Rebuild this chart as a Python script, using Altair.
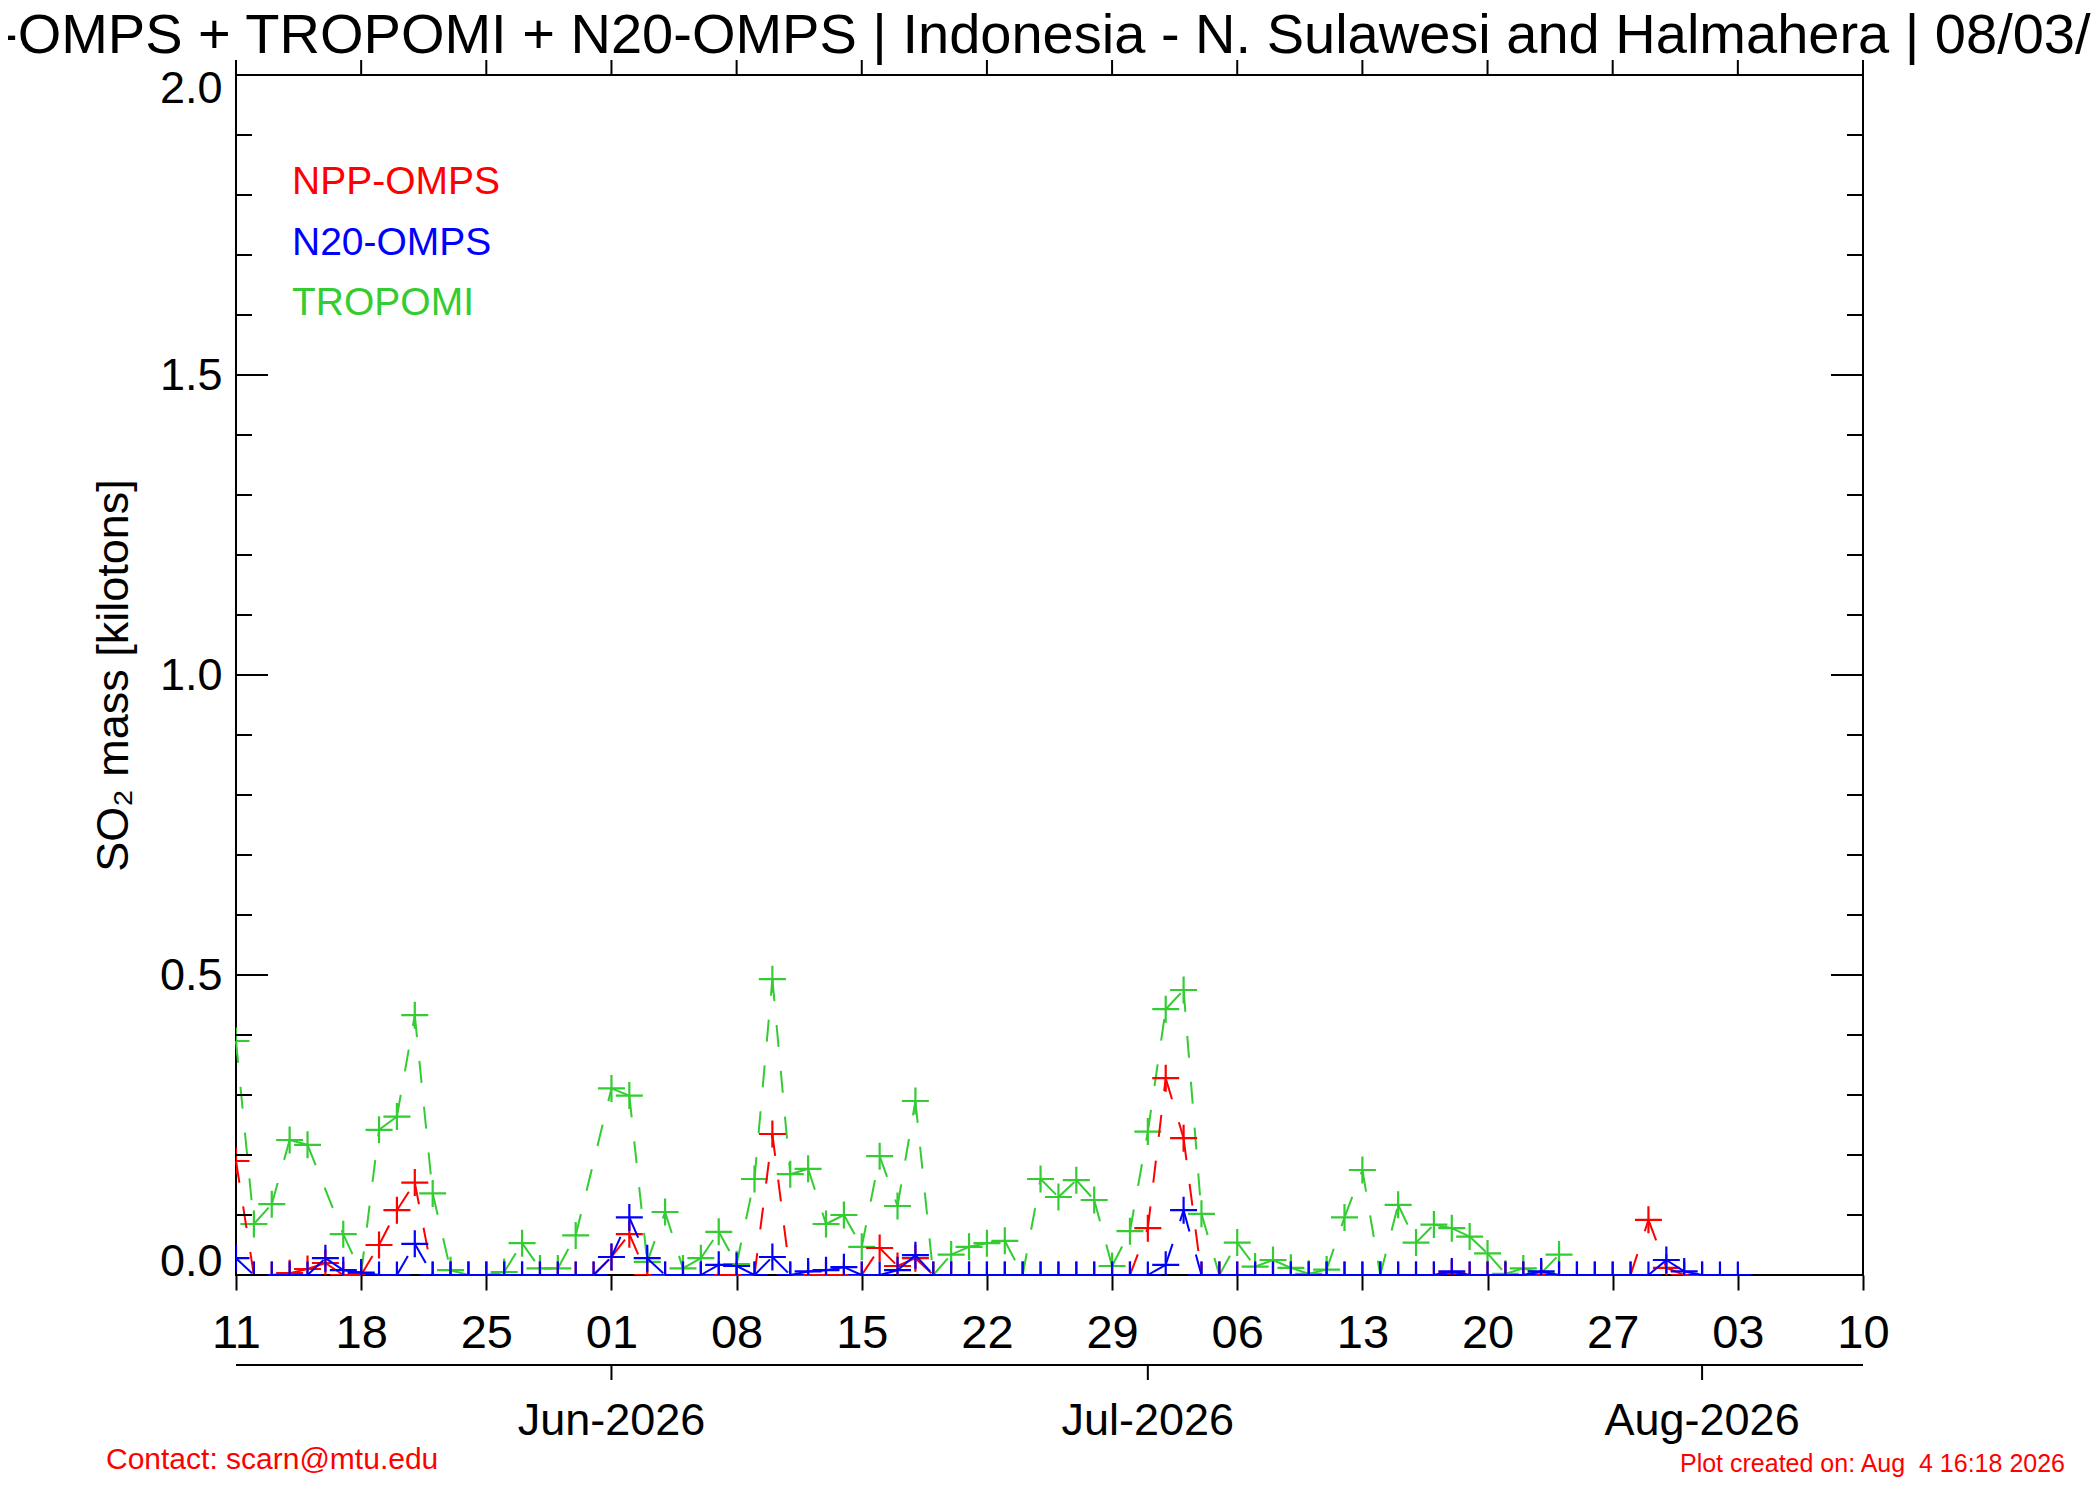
import altair as alt
import pandas as pd

FONT = "Liberation Sans"
START = pd.Timestamp("2026-05-11")

# ---- data (kilotons), one value per day starting 2026-05-11; None = no retrieval ----
tropomi = [0.39, 0.085, 0.118, 0.225, 0.217, None, 0.068, 0.003, 0.242, 0.264,
           0.433, 0.136, 0.008, 0.0, 0.0, 0.005, 0.053, 0.011, 0.011, 0.066,
           None, 0.311, 0.299, 0.022, 0.105, 0.011, 0.028, 0.072, 0.018, 0.16,
           0.493, 0.168, 0.177, 0.085, 0.1, 0.047, 0.198, 0.115, 0.29, 0.0,
           0.034, 0.047, 0.053, 0.057, 0.0, 0.16, 0.13, 0.158, 0.125, 0.015,
           0.073, 0.239, 0.443, 0.475, 0.102, 0.0, 0.054, 0.014, 0.025, 0.012,
           0.002, 0.009, 0.096, 0.175, 0.0, 0.117, 0.054, 0.084, 0.078, 0.064,
           0.036, 0.002, 0.011, 0.003, 0.034]

npp_omps = [0.19, 0.0, 0.0, 0.003, 0.01, 0.02, 0.0, 0.0, 0.05, 0.108,
            0.154, 0.0, 0.0, 0.0, 0.0, 0.0, 0.0, 0.0, 0.0, 0.0,
            0.0, 0.03, 0.068, 0.0, 0.0, 0.0, 0.0, 0.0, 0.0, 0.0,
            0.235, 0.0, 0.0, 0.0, 0.0, 0.0, 0.045, 0.015, 0.028, 0.0,
            0.0, 0.0, 0.0, 0.0, 0.0, 0.0, 0.0, 0.0, 0.0, 0.0,
            0.0, 0.078, 0.328, 0.228, 0.0, 0.0, 0.0, 0.0, 0.0, 0.0,
            0.0, 0.0, 0.0, 0.0, 0.0, 0.0, 0.0, 0.0, 0.003, 0.0,
            0.0, 0.0, 0.0, 0.0, 0.0, 0.0, 0.0, 0.0, 0.0, 0.092,
            0.012, 0.0, 0.0]

n20_omps = [0.028, 0.0, 0.0, 0.0, 0.0, 0.028, 0.008, 0.004, 0.0, 0.0,
            0.052, 0.0, 0.0, 0.0, 0.0, 0.0, 0.0, 0.0, 0.0, 0.0,
            0.0, 0.03, 0.096, 0.028, 0.0, 0.0, 0.0, 0.017, 0.015, 0.0,
            0.03, 0.0, 0.006, 0.008, 0.013, 0.0, 0.0, 0.008, 0.033, 0.0,
            0.0, 0.0, 0.0, 0.0, 0.0, 0.0, 0.0, 0.0, 0.0, 0.0,
            0.0, 0.0, 0.017, 0.108, 0.0, 0.0, 0.0, 0.0, 0.0, 0.0,
            0.0, 0.0, 0.0, 0.0, 0.0, 0.0, 0.0, 0.0, 0.006, 0.0,
            0.0, 0.0, 0.0, 0.006, 0.0, 0.0, 0.0, 0.0, 0.0, 0.0,
            0.025, 0.006, 0.0, 0.0, 0.0]

series_names = ["NPP-OMPS", "N20-OMPS", "TROPOMI"]
series_colors = ["#FF0000", "#0000FF", "#33CC33"]

week_ticks = ["2026-05-11", "2026-05-18", "2026-05-25", "2026-06-01", "2026-06-08",
              "2026-06-15", "2026-06-22", "2026-06-29", "2026-07-06", "2026-07-13",
              "2026-07-20", "2026-07-27", "2026-08-03", "2026-08-10"]
month_ticks = ["2026-06-01", "2026-07-01", "2026-08-01"]
month_labels = ["Jun-2026", "Jul-2026", "Aug-2026"]
y_minor_ticks = [0.0, 0.1, 0.2, 0.3, 0.4, 0.5, 0.6, 0.7, 0.8, 0.9, 1.0,
                 1.1, 1.2, 1.3, 1.4, 1.5, 1.6, 1.7, 1.8, 1.9, 2.0]
y_major_ticks = [0.0, 0.5, 1.0, 1.5, 2.0]

title_text = "NPP-OMPS + TROPOMI + N20-OMPS | Indonesia - N. Sulawesi and Halmahera | 08/03/2026"
contact_text = "Contact: scarn@mtu.edu"
created_text = "Plot created on: Aug \u00a04 16:18 2026"

# ---- layout ----
W, H = 1627, 1200


def dt(s):
    t = pd.Timestamp(s)
    return alt.DateTime(year=t.year, month=t.month, date=t.day, utc=True)


def day(i):
    return (START + pd.Timedelta(days=i)).strftime("%Y-%m-%d")


def build(name, vals):
    pts = [(i, v) for i, v in enumerate(vals) if v is not None]
    prow = [{"series": name, "date": day(i), "value": v} for i, v in pts]
    srow = []
    for k in range(len(pts) - 1):
        for (i, v) in (pts[k], pts[k + 1]):
            srow.append({"series": name, "seg": k, "date": day(i), "value": v})
    return pd.DataFrame(prow), pd.DataFrame(srow)


x_scale = alt.Scale(type="utc", domain=[dt(week_ticks[0]), dt(week_ticks[-1])])
y_scale = alt.Scale(domain=[0, 2], nice=False, zero=False)

x_axis = alt.Axis(values=[dt(s) for s in week_ticks], format="%d", orient="bottom",
                  labelFont=FONT, labelFontSize=47, labelColor="black", labelPadding=57,
                  labelBaseline="alphabetic", labelFlush=False, labelOverlap=False,
                  tickSize=15, tickWidth=2, tickColor="black", domain=False,
                  grid=False, title=None)
y_axis = alt.Axis(values=y_major_ticks, format=".1f", orient="left", labelFont=FONT,
                  labelFontSize=45, labelColor="black", labelPadding=14, labelFlush=True,
                  labelFlushOffset=9, ticks=False, tickSize=0, domain=False, grid=False,
                  title="SO\u2082 mass [kilotons]", titleFont=FONT, titleFontSize=45,
                  titleFontWeight="normal", titleColor="black", titlePadding=23)


def X(field):
    return alt.X(field, scale=x_scale, axis=x_axis)


def Y(field):
    return alt.Y(field, scale=y_scale, axis=y_axis)


PLUS = "M-1,0L1,0M0,-1L0,1"

layers = []
for name, vals, col in [("TROPOMI", tropomi, series_colors[2]),
                        ("NPP-OMPS", npp_omps, series_colors[0]),
                        ("N20-OMPS", n20_omps, series_colors[1])]:
    pdf, sdf = build(name, vals)
    line = alt.Chart(sdf).mark_line(color=col, strokeWidth=2, strokeDash=[22, 24]).encode(
        x=X("date:T"), y=Y("value:Q"), detail="seg:N",
    )
    pts = alt.Chart(pdf).mark_point(shape=PLUS, filled=False, size=729, strokeWidth=2.2,
                                     color=col, opacity=1, clip=True).encode(
        x=X("date:T"), y=Y("value:Q"),
    )
    layers += [line, pts]

# inward y ticks (left and right)
ymin_df = pd.DataFrame({"value": y_minor_ticks})
ymaj_df = pd.DataFrame({"value": y_major_ticks})
tick_layers = []
for df, ln in [(ymin_df, 16), (ymaj_df, 32)]:
    tick_layers.append(alt.Chart(df).mark_rule(color="black", strokeWidth=2).encode(
        y=Y("value:Q"), x=alt.value(0), x2=alt.value(ln)))
    tick_layers.append(alt.Chart(df).mark_rule(color="black", strokeWidth=2).encode(
        y=Y("value:Q"), x=alt.value(W - ln), x2=alt.value(W)))

# top outward ticks
week_df = pd.DataFrame({"date": week_ticks})
tick_layers.append(alt.Chart(week_df).mark_rule(color="black", strokeWidth=2).encode(
    x=X("date:T"), y=alt.value(-15), y2=alt.value(0)))

# month axis below
month_df = pd.DataFrame({"date": month_ticks, "label": month_labels})
tick_layers.append(alt.Chart(pd.DataFrame({"a": [0]})).mark_rule(color="black", strokeWidth=2).encode(
    x=alt.value(0), x2=alt.value(W), y=alt.value(H + 90)))
tick_layers.append(alt.Chart(month_df).mark_rule(color="black", strokeWidth=2).encode(
    x=X("date:T"), y=alt.value(H + 90), y2=alt.value(H + 105)))
tick_layers.append(alt.Chart(month_df).mark_text(font=FONT, fontSize=45, color="black",
                                                 align="center", baseline="alphabetic").encode(
    x=X("date:T"), y=alt.value(H + 160), text="label:N"))

# title, legend and footer texts
text_layers = []
text_layers.append(alt.Chart(pd.DataFrame({"t": [title_text]})).mark_text(
    font=FONT, fontSize=56, color="black", align="center", baseline="alphabetic").encode(
    x=alt.value(W / 2), y=alt.value(-22), text="t:N"))
for k, (nm, col) in enumerate(zip(series_names, series_colors)):
    text_layers.append(alt.Chart(pd.DataFrame({"t": [nm]})).mark_text(
        font=FONT, fontSize=39, color=col, align="left", baseline="alphabetic").encode(
        x=alt.value(56), y=alt.value(119 + 60.5 * k), text="t:N"))
text_layers.append(alt.Chart(pd.DataFrame({"t": [contact_text]})).mark_text(
    font=FONT, fontSize=30, color="#FF0000", align="left", baseline="alphabetic").encode(
    x=alt.value(-130), y=alt.value(H + 194), text="t:N"))
text_layers.append(alt.Chart(pd.DataFrame({"t": [created_text]})).mark_text(
    font=FONT, fontSize=25, color="#FF0000", align="right", baseline="alphabetic").encode(
    x=alt.value(W + 202), y=alt.value(H + 197), text="t:N"))

chart = alt.layer(*layers, *tick_layers, *text_layers).properties(
    width=W, height=H,
    autosize=alt.AutoSizeParams(type="none"),
    padding={"left": 228, "top": 67, "right": 229, "bottom": 213},
).configure(font=FONT, background="white").configure_view(stroke="black", strokeWidth=2)

chart.save("out.html", embed_options={"renderer": "svg", "actions": False})
